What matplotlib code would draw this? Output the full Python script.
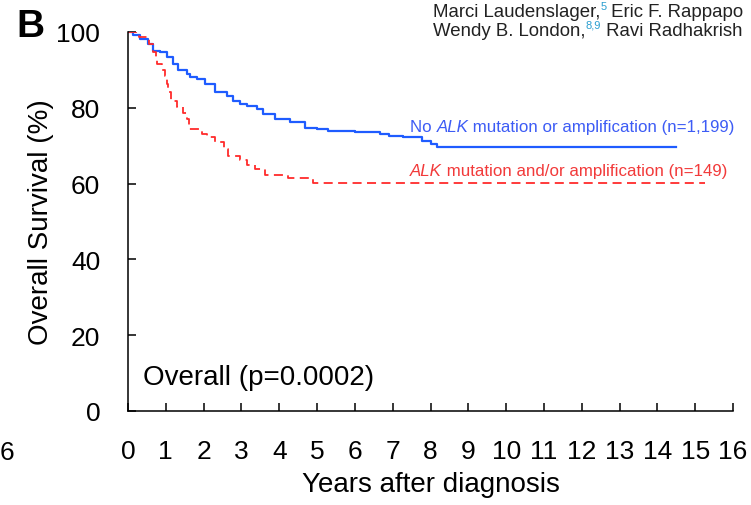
import matplotlib
matplotlib.use("Agg")
import matplotlib.pyplot as plt

plt.rcParams['font.family'] = ['Liberation Sans', 'DejaVu Sans']

# Kaplan-Meier curves (years, % surviving)
blue_t = [0, 0.14, 0.32, 0.54, 0.67, 0.85, 1.02, 1.2, 1.33, 1.55, 1.64, 1.82, 2.04,
          2.3, 2.61, 2.79, 2.96, 3.14, 3.4, 3.58, 3.89, 4.29, 4.68, 5.0, 5.3, 6.0,
          6.67, 6.9, 7.28, 7.77, 8.0, 8.17, 14.5]
blue_s = [100, 99.1, 98.2, 96.8, 95.1, 94.7, 93.4, 91.6, 89.9, 89.0, 88.0, 87.6, 86.3,
          84.1, 83.2, 81.8, 81.1, 80.6, 79.7, 78.4, 77.0, 76.2, 74.8, 74.4, 73.8, 73.5,
          73.1, 72.6, 72.3, 71.3, 70.4, 69.6, 69.6]

red_t = [0, 0.3, 0.55, 0.66, 0.73, 0.78, 0.9, 0.98, 1.02, 1.06, 1.15, 1.3, 1.45, 1.55,
         1.6, 1.96, 2.1, 2.3, 2.53, 2.65, 2.96, 3.14, 3.36, 3.62, 4.24, 4.88, 15.25]
red_s = [100, 98.6, 96.8, 94.6, 92.5, 91.6, 89.9, 88.5, 86.3, 84.1, 81.9, 80.3, 78.5, 77,
         74.3, 73.1, 72.4, 70.9, 69.1, 67.2, 66.3, 64.9, 63.8, 62.2, 61.4, 60.2, 60.2]

xticks = list(range(0, 17))
yticks = [0, 20, 40, 60, 80, 100]

BLUE = '#1f5cff'
RED = '#ff2b2b'

W, H = 751, 506
fig = plt.figure(figsize=(W / 100, H / 100), dpi=100)
ax = fig.add_axes([128 / W, 1 - 412 / H, (733 - 128) / W, (412 - 33) / H])

ax.plot(blue_t, blue_s, drawstyle='steps-post', color=BLUE, lw=1.6)
ax.plot(red_t, red_s, drawstyle='steps-post', color=RED, lw=1.3, dashes=(5, 3))

ax.set_xlim(0, 16)
ax.set_ylim(0, 100)
ax.set_xticks(xticks)
ax.set_yticks(yticks)
for s in ['top', 'right']:
    ax.spines[s].set_visible(False)
for s in ['left', 'bottom']:
    ax.spines[s].set_linewidth(1.1)
ax.tick_params(direction='in', length=6, width=1.1, labelsize=19, pad=20)
ax.set_xlabel('Years after diagnosis', fontsize=20, labelpad=6)
ax.set_ylabel('Overall Survival (%)', fontsize=20, labelpad=2)

ax.text(0.4, 9, 'Overall (p=0.0002)', fontsize=20, va='center')

fig.canvas.draw()
renderer = fig.canvas.get_renderer()


def chain(x, y, parts, **kw):
    # text pieces one after another; x/y are pixels from the top-left corner
    xp = x
    for txt, style in parts:
        opts = dict(kw)
        opts.update(style)
        dy = opts.pop('dy', 0)
        t = fig.text(xp / W, 1 - (y - dy) / H, txt, va='baseline', **opts)
        xp += t.get_window_extent(renderer).width


sup = {'fontsize': 8, 'color': '#2a9fd0', 'dy': 7}
chain(410, 132, [('No ', {}), ('ALK', {'style': 'italic'}),
                 (' mutation or amplification (n=1,199)', {})], fontsize=12.2, color='#3d5cf5')
chain(410, 176, [('ALK', {'style': 'italic'}),
                 (' mutation and/or amplification (n=149)', {})], fontsize=12.2, color='#f23a3a')

chain(433, 17, [('Marci Laudenslager,', {}), ('5', sup), (' Eric F. Rappapo', {})],
      fontsize=13.4, color='#222222')
chain(433, 36, [('Wendy B. London,', {}), ('8,9', sup), (' Ravi Radhakrish', {})],
      fontsize=13.4, color='#222222')

fig.text(16 / W, 1 - 37 / H, 'B', fontsize=28, fontweight='bold', va='baseline')
fig.text(0, 1 - 453 / H, '6', fontsize=19, va='center', ha='left')

fig.savefig('out.png', dpi=100)
